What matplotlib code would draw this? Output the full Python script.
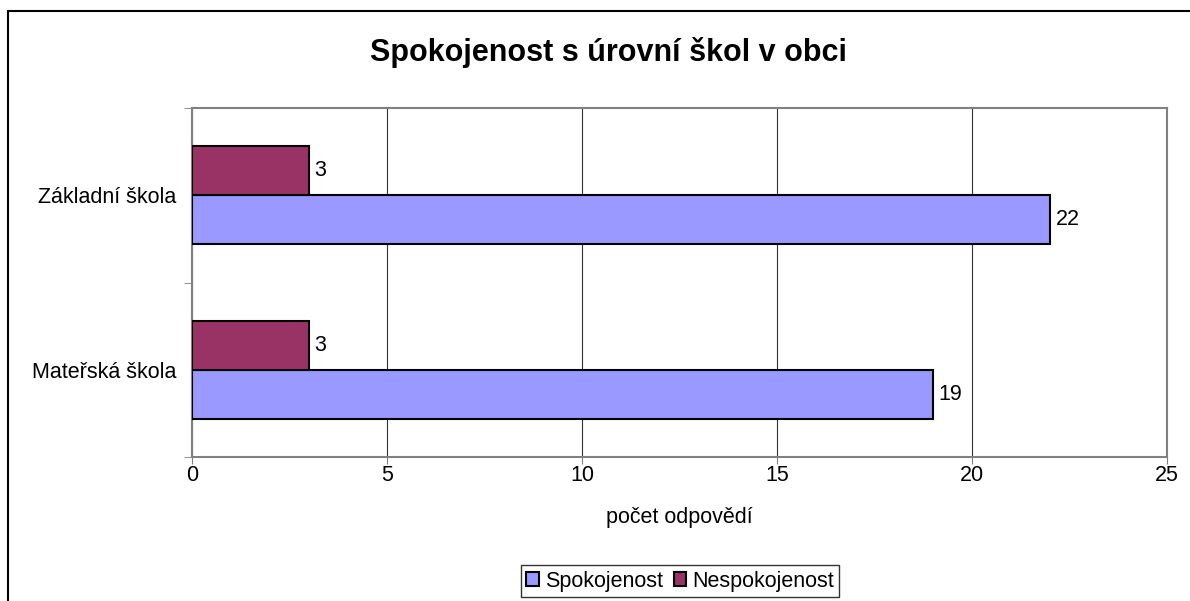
import matplotlib
matplotlib.use("Agg")
import matplotlib.pyplot as plt
from matplotlib.patches import Rectangle
import numpy as np

plt.rcParams['font.family'] = ['Liberation Sans', 'DejaVu Sans']

categories = ["Mateřská škola", "Základní škola"]
spokojenost = [19, 22]
nespokojenost = [3, 3]
series_names = ["Spokojenost", "Nespokojenost"]
xticks = [0, 5, 10, 15, 20, 25]

W, H = 1190, 601
fig = plt.figure(figsize=(W / 100, H / 100), dpi=100)
fig.patch.set_facecolor("white")

# outer border
fig.add_artist(Rectangle((8 / W, -0.1), 1.2, (1 - 11 / H) + 0.1, transform=fig.transFigure,
                         fill=False, edgecolor="black", linewidth=1.5))

FS = 15.5
ax = fig.add_axes([192 / W, 1 - 457 / H, 975 / W, 349 / H])
y = np.arange(len(categories))
h = 0.28
b1 = ax.barh(y - h / 2, spokojenost, height=h, color="#9999FF", edgecolor="black",
             linewidth=1.5, label=series_names[0], zorder=3)
b2 = ax.barh(y + h / 2, nespokojenost, height=h, color="#993366", edgecolor="black",
             linewidth=1.5, label=series_names[1], zorder=3)
for bars in (b1, b2):
    ax.bar_label(bars, padding=4, fontsize=FS)

ax.set_xlim(0, 25)
ax.set_ylim(-0.5, 1.5)
ax.set_xticks(xticks)
ax.tick_params(axis="x", labelsize=FS, length=5, color="#808080", pad=1)
ax.set_yticks(y)
ax.set_yticklabels(categories, fontsize=FS)
ax.tick_params(axis="y", length=0, pad=11)
ax.set_yticks([-0.5, 0.5, 1.5], minor=True)
ax.tick_params(axis="y", which="minor", length=6, color="#808080")
ax.xaxis.grid(True, color="#333333", linewidth=0.8, zorder=0)
for s in ax.spines.values():
    s.set_color("#808080")
    s.set_linewidth(1.5)
ax.set_xlabel("počet odpovědí", fontsize=FS, labelpad=15)

fig.text(0.511, 1 - 52 / H, "Spokojenost s úrovní škol v obci", ha="center", va="center",
         fontsize=22, fontweight="bold")

leg = fig.legend(handles=[b1, b2], labels=series_names, loc="center",
                 bbox_to_anchor=(680 / W, 1 - 581 / H), ncol=2, fontsize=FS,
                 frameon=True, fancybox=False, edgecolor="black", handlelength=0.6,
                 handleheight=0.6, handletextpad=0.25, columnspacing=0.5, borderpad=0.25,
                 borderaxespad=0)
leg.get_frame().set_linewidth(1.0)

fig.savefig("out.png", dpi=100)
